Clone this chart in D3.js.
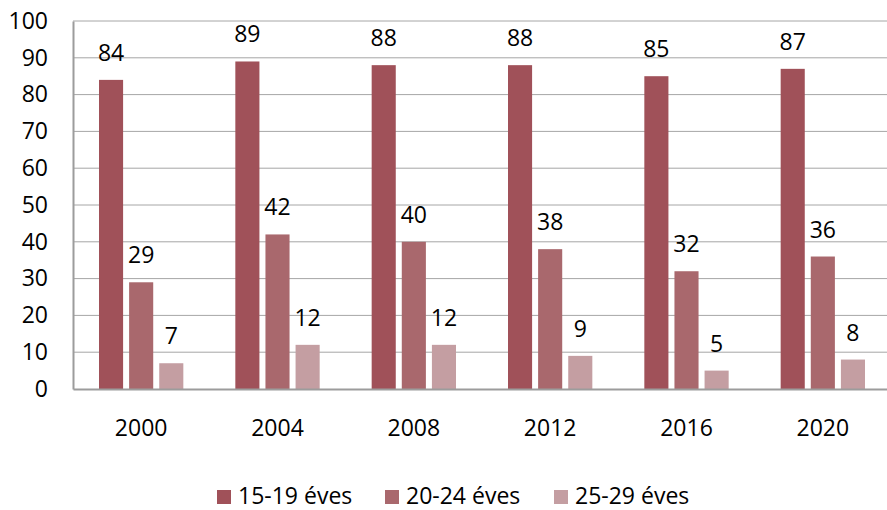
<!DOCTYPE html>
<html>
<head>
<meta charset="utf-8">
<script src="https://cdn.jsdelivr.net/npm/d3@7"></script>
<style>
  body { margin: 0; background: #fff; }
  svg text { font-family: "Open Sans", sans-serif; fill: #000; }
</style>
</head>
<body>
<svg width="887" height="510"></svg>
<script>
// data
var years = ["2000", "2004", "2008", "2012", "2016", "2020"];
var seriesNames = ["15-19 éves", "20-24 éves", "25-29 éves"];
var age1519 = [84, 89, 88, 88, 85, 87];
var age2024 = [29, 42, 40, 38, 32, 36];
var age2529 = [7, 12, 12, 9, 5, 8];
var yTicks = [0, 10, 20, 30, 40, 50, 60, 70, 80, 90, 100];

var colors = ["#a05159", "#a9686d", "#c49ea2"];
var series = [age1519, age2024, age2529];

var svg = d3.select("svg");
var margin = {left: 73, top: 21, right: -4, bottom: 121};
var width = +svg.attr("width") - margin.left - margin.right,
	height = +svg.attr("height") - margin.top - margin.bottom;

var x = d3.scaleBand()
	.domain(years)
	.range([0, width]);
var xInner = d3.scaleBand()
	.domain(seriesNames)
	.range([26, x.bandwidth() - 26])
	.paddingInner(0.2);
var y = d3.scaleLinear()
	.domain([0, 100])
	.range([height, 0]);

var g = svg.append("g")
	.attr("transform", "translate(" + margin.left + "," + margin.top + ")");

// gridlines
g.selectAll("line.grid").data(yTicks.slice(1))
	.enter().append("line")
	.attr("class", "grid")
	.attr("x1", 0).attr("x2", width)
	.attr("y1", d => y(d)).attr("y2", d => y(d))
	.style("stroke", "#a6a6a6")
	.style("stroke-width", 1);

// bars
var groups = g.selectAll("g.year").data(years)
	.enter().append("g")
	.attr("class", "year")
	.attr("transform", d => "translate(" + x(d) + ",0)");

seriesNames.forEach(function(name, si) {
	groups.append("rect")
		.attr("x", xInner(name))
		.attr("width", xInner.bandwidth())
		.attr("y", (d, i) => y(series[si][i]))
		.attr("height", (d, i) => height - y(series[si][i]))
		.style("fill", colors[si]);
	groups.append("text")
		.attr("x", xInner(name) + xInner.bandwidth() / 2)
		.attr("y", (d, i) => y(series[si][i]) - 19)
		.attr("text-anchor", "middle")
		.style("font-size", "23px")
		.text((d, i) => series[si][i]);
});

// axes
var yAxis = g.append("g")
	.call(d3.axisLeft(y).tickValues(yTicks).tickSize(0).tickPadding(25));
yAxis.select(".domain").style("stroke", "#9c9c9c").style("stroke-width", 2);
yAxis.selectAll("text").style("font-size", "23px");

var xAxis = g.append("g")
	.attr("transform", "translate(0," + height + ")")
	.call(d3.axisBottom(x).tickSize(0).tickPadding(31));
xAxis.select(".domain").style("stroke", "#9c9c9c").style("stroke-width", 2);
xAxis.selectAll("text").style("font-size", "23px");

// legend
var legendX = [217, 385, 554];
var legend = svg.append("g").selectAll("g").data(seriesNames)
	.enter().append("g")
	.attr("transform", (d, i) => "translate(" + legendX[i] + ",490)");
legend.append("rect")
	.attr("width", 14).attr("height", 14)
	.style("fill", (d, i) => colors[i]);
legend.append("text")
	.attr("x", 21).attr("y", 14)
	.style("font-size", "23px")
	.text(d => d);
</script>
</body>
</html>
